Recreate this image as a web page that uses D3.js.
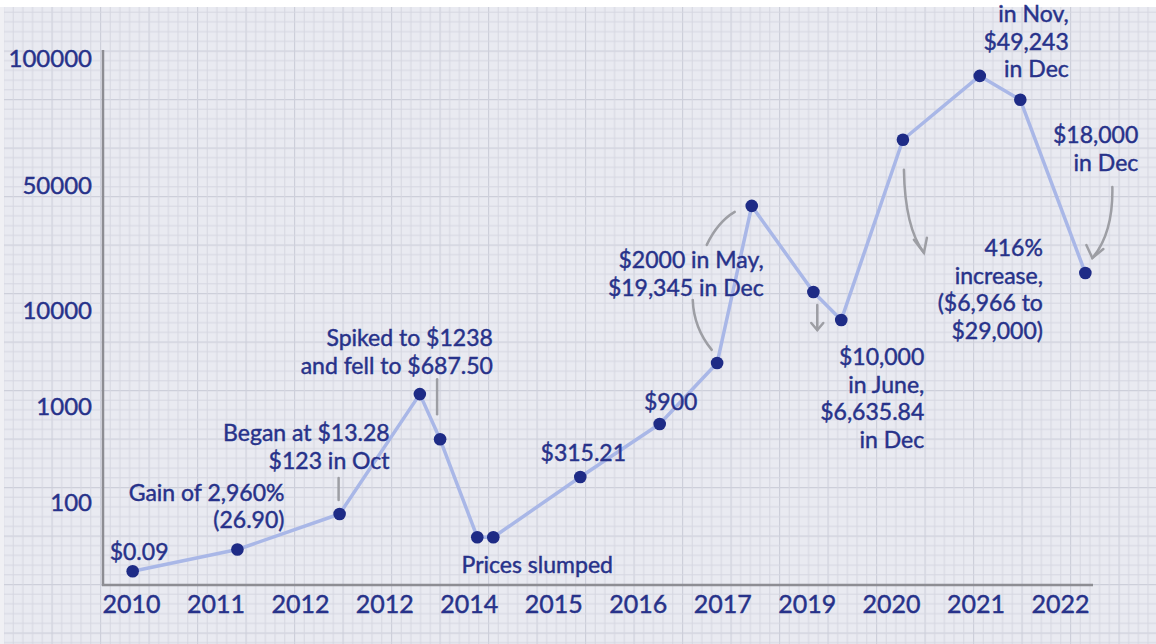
<!DOCTYPE html>
<html><head><meta charset="utf-8">
<script src="https://cdn.jsdelivr.net/npm/d3@7"></script>
<style>html,body{margin:0;padding:0;background:#fff;}svg{display:block;}</style>
</head><body>
<svg id="c" width="1156" height="644"></svg>
<script>
// ---------- data ----------
const xLabels = ["2010","2011","2012","2012","2014","2015","2016","2017","2019","2020","2021","2022"];
const yTicks = [100, 1000, 10000, 50000, 100000];
const yTickLabels = ["100","1000","10000","50000","100000"];
// position of each point along the x axis, in tick-label units
const pointPos = [0.02,1.26,2.47,3.42,3.66,4.10,4.29,5.32,6.26,6.94,7.35,8.08,8.41,9.14,10.05,10.53,11.30];
// values read against the drawn (non-uniform) axis
const pointValues = [19,32,75,1330,450,43,43,182,650,2800,38200,12600,7870,64000,90700,79600,16100];

const annTexts = [
  ["$0.09"],
  ["Gain of 2,960%","(26.90)"],
  ["Began at $13.28","$123 in Oct"],
  ["Spiked to $1238","and fell to $687.50"],
  ["Prices slumped"],
  ["$315.21"],
  ["$900"],
  ["$2000 in May,","$19,345 in Dec"],
  ["$10,000","in June,","$6,635.84","in Dec"],
  ["416%","increase,","($6,966 to","$29,000)"],
  ["$18,000","in Dec"],
  ["in Nov,","$49,243","in Dec"]
];
const annPoint = [0,1,2,3,5,7,8,10,12,13,15,14];

// ---------- layout ----------
const W = 1156, H = 644;
const annLayout = [
  {dx:-23,dy:-20,a:"start"},
  {dx:47,dy:-57,a:"end"},
  {dx:50,dy:-81,a:"end"},
  {dx:73,dy:-56,a:"end"},
  {dx:60,dy:28,a:"middle"},
  {dx:3,dy:-24,a:"middle"},
  {dx:11,dy:-22,a:"middle"},
  {dx:12,dy:54,a:"end"},
  {dx:83,dy:37,a:"end"},
  {dx:140,dy:108,a:"end"},
  {dx:118,dy:35,a:"end"},
  {dx:89,dy:-62,a:"end"}
];
const lineH = 27.5;
const textColor = "#27328a";
const font = "Lato, 'Open Sans', sans-serif";

const svg = d3.select("#c");

// background graph paper
const defs = svg.append("defs");
const cell = 9.7;
const pat = defs.append("pattern").attr("id","grid").attr("patternUnits","userSpaceOnUse")
  .attr("width",cell*5).attr("height",cell*5).attr("x",3).attr("y",2);
pat.append("rect").attr("width",cell*5).attr("height",cell*5).attr("fill","#e9eaf1");
for (let i=0;i<5;i++){
  const p = i*cell+0.5;
  const c = i===0?"#cdcfda":"#d6d7e1";
  const w = i===0?1.3:1;
  pat.append("line").attr("x1",p).attr("x2",p).attr("y1",0).attr("y2",cell*5).attr("stroke",c).attr("stroke-width",w);
  pat.append("line").attr("y1",p).attr("y2",p).attr("x1",0).attr("x2",cell*5).attr("stroke",c).attr("stroke-width",w);
}
svg.append("rect").attr("width",W).attr("height",H).attr("fill","url(#grid)");
svg.append("rect").attr("width",4).attr("height",H).attr("fill","#f0f0f4");
// white strip at top
svg.append("rect").attr("width",W).attr("height",7).attr("fill","#ffffff");

// scales
const x = d3.scaleLinear().domain([0, xLabels.length-1]).range([131, 1060]);
const yLog = d3.scaleLinear().domain(yTicks.map(Math.log10)).range([502, 406, 310, 185, 58]);
const y = v => yLog(Math.log10(v));

// axes lines
const axisColor = "#8d8d93";
svg.append("line").attr("x1",103).attr("x2",103).attr("y1",50).attr("y2",586)
  .attr("stroke",axisColor).attr("stroke-width",2.5);
svg.append("line").attr("x1",102).attr("x2",1093).attr("y1",585).attr("y2",585)
  .attr("stroke",axisColor).attr("stroke-width",2.5);

function styleText(sel, size){
  sel.attr("font-family",font).attr("font-size",size).attr("fill",textColor)
    .attr("stroke",textColor).attr("stroke-width",0.45).attr("paint-order","stroke");
}

// y axis labels
const gy = svg.append("g").attr("transform","translate(92,0)")
  .call(d3.axisLeft(yLog).tickValues(yTicks.map(Math.log10)).tickSize(0).tickPadding(0)
    .tickFormat((d,i)=>yTickLabels[i]));
gy.select(".domain").remove();
styleText(gy.selectAll("text").attr("dy","0.36em"), 24);

// x axis labels
const gx = svg.append("g").attr("transform","translate(0,595)")
  .call(d3.axisBottom(x).tickValues(d3.range(xLabels.length)).tickSize(0).tickPadding(0)
    .tickFormat(i=>xLabels[i]));
gx.select(".domain").remove();
styleText(gx.selectAll("text").attr("dy","0.71em"), 25);

// data
const pts = pointValues.map((v,i)=>({px:x(pointPos[i]), py:y(v)}));

// grey annotation strokes
const grey = "#9d9ea4";
const gg = svg.append("g").attr("fill","none").attr("stroke",grey).attr("stroke-width",2.5).attr("stroke-linecap","round");
function at(i){ return gg.append("g").attr("transform",`translate(${pts[i].px},${pts[i].py})`); }
at(2).append("path").attr("d","M-1,-36 L-1,-14");
at(4).append("path").attr("d","M-3,-60 L-3,-25");
at(10).append("path").attr("d","M-17,6 Q-34,16 -45,39");
at(10).append("path").attr("d","M-59,94 Q-58,122 -40,144");
const a12 = at(12);
a12.append("path").attr("d","M-24,-15 L-24,10");
a12.append("path").attr("d","M-30,3 L-24,10 L-18,3");
const a13 = at(13);
a13.append("path").attr("d","M1,30 Q2,88 21,113");
a13.append("path").attr("d","M11,100 L21,113 L24,98");
const a16 = at(16);
a16.append("path").attr("d","M27,-86 Q28,-40 7,-15");
a16.append("path").attr("d","M1,-28 L7,-15 L18,-24");

// line
svg.append("path").datum(pts)
  .attr("d", d3.line().x(d=>d.px).y(d=>d.py))
  .attr("fill","none").attr("stroke","#a9b7e7").attr("stroke-width",3.5)
  .attr("stroke-linejoin","round");

// dots
svg.append("g").selectAll("circle").data(pts).join("circle")
  .attr("cx",d=>d.px).attr("cy",d=>d.py).attr("r",6.3).attr("fill","#1e2b86");

// annotation text
annTexts.forEach((lines,k)=>{
  const p = pts[annPoint[k]], L = annLayout[k];
  const t = svg.append("text").attr("text-anchor",L.a);
  styleText(t, 23);
  lines.forEach((s,j)=>{
    t.append("tspan").attr("x",p.px+L.dx).attr("y",p.py+L.dy+j*lineH).attr("dy","0.36em").text(s);
  });
});
</script>
</body></html>
